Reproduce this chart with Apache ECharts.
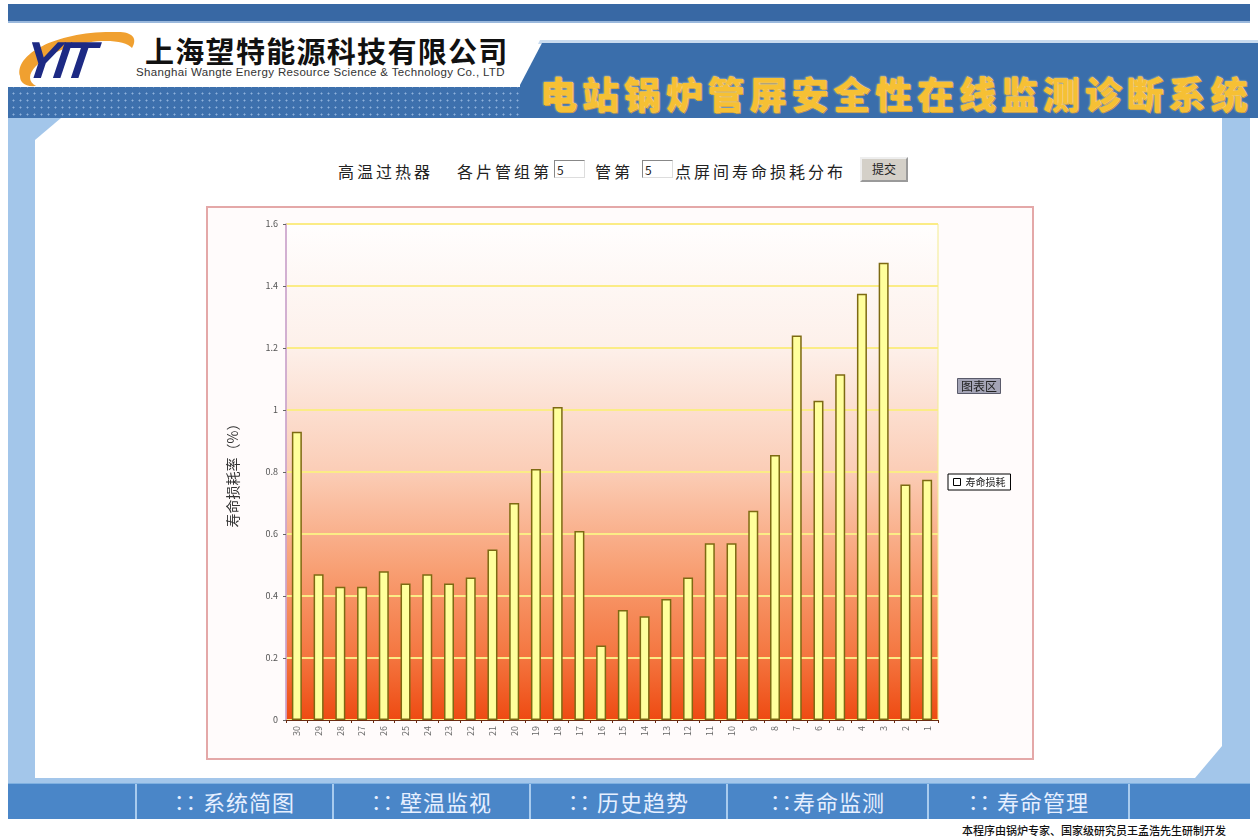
<!DOCTYPE html>
<html lang="zh-CN">
<head>
<meta charset="utf-8">
<title>电站锅炉管屏安全性在线监测诊断系统</title>
<script src="https://cdn.jsdelivr.net/npm/echarts@6/dist/echarts.min.js"></script>
<style>
  html, body { margin: 0; padding: 0; background: #ffffff; }
  body { width: 1258px; height: 840px; position: relative; overflow: hidden;
         font-family: "Noto Sans CJK SC", "Noto Sans", sans-serif; color: #222; }
  .abs { position: absolute; }
  #topbar { left: 8px; top: 4px; width: 1242px; height: 17px; background: #3868a4;
            border-bottom: 2px solid #9ab8dc; }
  #dotband { left: 8px; top: 87px; width: 530px; height: 31px; background-color: #3d70ad;
             background-image: radial-gradient(circle, #8fb2dc 0.8px, transparent 1.2px);
             background-size: 7px 7px; background-position: 2px 3px; }
  #banner { left: 520px; top: 43px; width: 738px; height: 75px; background: #3a6eab;
            clip-path: polygon(22px 0, 100% 0, 100% 100%, 0 100%, 0 42px); }
  #bannerEdge { left: 518px; top: 40px; width: 740px; height: 4px; background: #c8dbef;
                clip-path: polygon(22px 0, 100% 0, 100% 100%, 20px 100%); }
  #sysTitle { left: 540px; top: 66px; font-size: 37px; font-weight: 900; color: #f6c034;
              letter-spacing: 4.9px; white-space: nowrap;
              text-shadow: 0 0 2px #fff3c0, 1px 1px 0 #c98a10; }
  #company { left: 145px; top: 29px; font-size: 29px; font-weight: 700; color: #111;
             letter-spacing: 1.3px; white-space: nowrap; }
  #companyEn { left: 136px; top: 66px; font-size: 11.5px; letter-spacing: 0.35px; color: #333; white-space: nowrap;
               font-family: "Liberation Sans", Arial, sans-serif; }
  #frame { left: 8px; top: 118px; width: 1242px; height: 665px; background: #a3c6ea; }
  #panel { left: 35px; top: 118px; width: 1187px; height: 660px; background: #ffffff;
           clip-path: polygon(26px 0, 100% 0, 100% 628px, 1160px 100%, 0 100%, 0 22px); }
  .ctl { position: absolute; font-size: 16px; letter-spacing: 3px; white-space: nowrap; top: 159px; color: #222; }
  .inp { position: absolute; top: 160px; height: 18px; border: 1px solid #888; border-right-color: #ddd;
         border-bottom-color: #ddd; background: #fff; font-size: 12px; line-height: 18px; padding-left: 2px; box-sizing: border-box; }
  #btn { left: 860px; top: 157px; width: 48px; height: 25px; background: #d4d0c8; border: 2px outset #eee;
         box-sizing: border-box; font-size: 12px; text-align: center; line-height: 20px; }
  #chartBox { left: 206px; top: 206px; width: 824px; height: 550px; border: 2px solid #e4a8a8; background: #fffbfb; }
  #nav { left: 8px; top: 783px; width: 1242px; height: 35px; background: #4a86c8; border-top: 1px solid #7fb0e0; }
  .navcell { position: absolute; top: 0; height: 35px; border-left: 2px solid #a8cbee; color: #e6efff;
             font-size: 22px; line-height: 35px; text-align: center; letter-spacing: 1px; }
  #footer { right: 32px; top: 822px; font-size: 11px; font-weight: 500; color: #111; white-space: nowrap; }
</style>
</head>
<body>
<div id="topbar" class="abs"></div>

<!-- company logo -->
<svg class="abs" style="left:14px;top:24px" width="124" height="66" viewBox="0 0 124 66">
  <path d="M6 52 C 0 30, 44 6, 104 8 C 118 8, 124 14, 118 24 C 108 12, 52 14, 22 42 C 14 50, 14 58, 22 62 C 10 63, 6 58, 6 52 Z" fill="#f0a030"/>
  <text x="16" y="54" font-family="Liberation Sans, Arial" font-size="52" font-weight="900" font-style="italic" fill="#1d2a84" letter-spacing="-5" transform="skewX(-8)">YIT</text>
</svg>
<div id="company" class="abs">上海望特能源科技有限公司</div>
<div id="companyEn" class="abs">Shanghai Wangte Energy Resource Science &amp; Technology Co., LTD</div>

<div id="frame" class="abs"></div>
<div id="panel" class="abs"></div>
<div id="dotband" class="abs"></div>
<div id="bannerEdge" class="abs"></div>
<div id="banner" class="abs"></div>
<div id="sysTitle" class="abs">电站锅炉管屏安全性在线监测诊断系统</div>

<!-- query form -->
<div class="ctl" style="left:338px">高温过热器</div>
<div class="ctl" style="left:457px">各片管组第</div>
<div class="inp" style="left:554px;width:31px">5</div>
<div class="ctl" style="left:595px">管第</div>
<div class="inp" style="left:642px;width:31px">5</div>
<div class="ctl" style="left:675px">点屏间寿命损耗分布</div>
<div id="btn" class="abs">提交</div>

<div id="chartBox" class="abs"></div>

<div id="nav" class="abs">
  <div class="navcell" style="left:127px;width:195px">∷ 系统简图</div>
  <div class="navcell" style="left:324px;width:195px">∷ 壁温监视</div>
  <div class="navcell" style="left:521px;width:195px">∷ 历史趋势</div>
  <div class="navcell" style="left:718px;width:199px">∷寿命监测</div>
  <div class="navcell" style="left:919px;width:199px">∷ 寿命管理</div>
  <div class="navcell" style="left:1120px;width:120px"></div>
</div>
<div id="footer" class="abs">本程序由锅炉专家、国家级研究员王孟浩先生研制开发</div>

<script>
// Tube numbers along the panel, listed from 30 down to 1
const tubeLabels = ['30','29','28','27','26','25','24','23','22','21','20','19','18','17','16',
                    '15','14','13','12','11','10','9','8','7','6','5','4','3','2','1'];
// Life consumption rate (%) for each tube
const lifeLoss = [0.93, 0.47, 0.43, 0.43, 0.48, 0.44, 0.47, 0.44, 0.46, 0.55,
                  0.70, 0.81, 1.01, 0.61, 0.24, 0.355, 0.335, 0.39, 0.46, 0.57,
                  0.57, 0.675, 0.855, 1.24, 1.03, 1.115, 1.375, 1.475, 0.76, 0.775];
const seriesName = '寿命损耗';
const yAxisTitle = '寿命损耗率（%）';
const areaLabel = '图表区';

const chart = echarts.init(document.getElementById('chartBox'), null, { renderer: 'canvas' });
chart.setOption({
  animation: false,
  backgroundColor: 'transparent',
  textStyle: { fontFamily: '"Noto Sans CJK SC", sans-serif' },
  title: {
    text: areaLabel,
    left: 749, top: 170,
    backgroundColor: '#a4a4b6',
    borderColor: '#5a5a6a', borderWidth: 1,
    padding: [2, 4],
    textStyle: { fontSize: 12, fontWeight: 'normal', color: '#222' }
  },
  legend: {
    data: [{ name: seriesName, itemStyle: { color: '#ffffff', borderColor: '#000000', borderWidth: 1 } }],
    left: 740, top: 266,
    backgroundColor: '#ffffff',
    borderColor: '#000', borderWidth: 1,
    padding: [3, 5],
    itemWidth: 7, itemHeight: 7, itemGap: 2,
    icon: 'rect',
    textStyle: { fontSize: 10, color: '#222' }
  },
  grid: {
    left: 78, top: 16, right: 94, bottom: 38,
    show: true,
    borderColor: '#f3ec90', borderWidth: 1,
    backgroundColor: {
      type: 'linear', x: 0, y: 0, x2: 0, y2: 1,
      colorStops: [
        { offset: 0, color: '#fffefe' },
        { offset: 0.25, color: '#fdf0ea' },
        { offset: 0.5, color: '#fbcdb6' },
        { offset: 0.7, color: '#f89e72' },
        { offset: 0.87, color: '#f47640' },
        { offset: 1, color: '#ee4a12' }
      ]
    }
  },
  xAxis: {
    type: 'category',
    data: tubeLabels,
    axisLine: { lineStyle: { color: '#6a2a10', width: 1 } },
    axisTick: { show: true, lineStyle: { color: '#6a2a10' }, length: 3 },
    axisLabel: { rotate: 90, fontSize: 9, color: '#666', margin: 6, interval: 0 }
  },
  yAxis: {
    type: 'value',
    min: 0, max: 1.6, interval: 0.2,
    name: yAxisTitle,
    nameLocation: 'middle',
    nameRotate: 90,
    nameGap: 46,
    nameTextStyle: { fontSize: 14, color: '#333' },
    axisLine: { show: true, lineStyle: { color: '#c69ad6', width: 1.5 } },
    axisTick: { show: true, length: 3, lineStyle: { color: '#666' } },
    axisLabel: { fontSize: 9, color: '#555', margin: 8 },
    splitLine: { lineStyle: { color: '#fbec86', width: 2 } }
  },
  series: [{
    name: seriesName,
    type: 'bar',
    data: lifeLoss,
    barWidth: 10,
    itemStyle: { color: '#ffff9c', borderColor: '#7d6a12', borderWidth: 1.5 }
  }]
});
</script>
</body>
</html>
